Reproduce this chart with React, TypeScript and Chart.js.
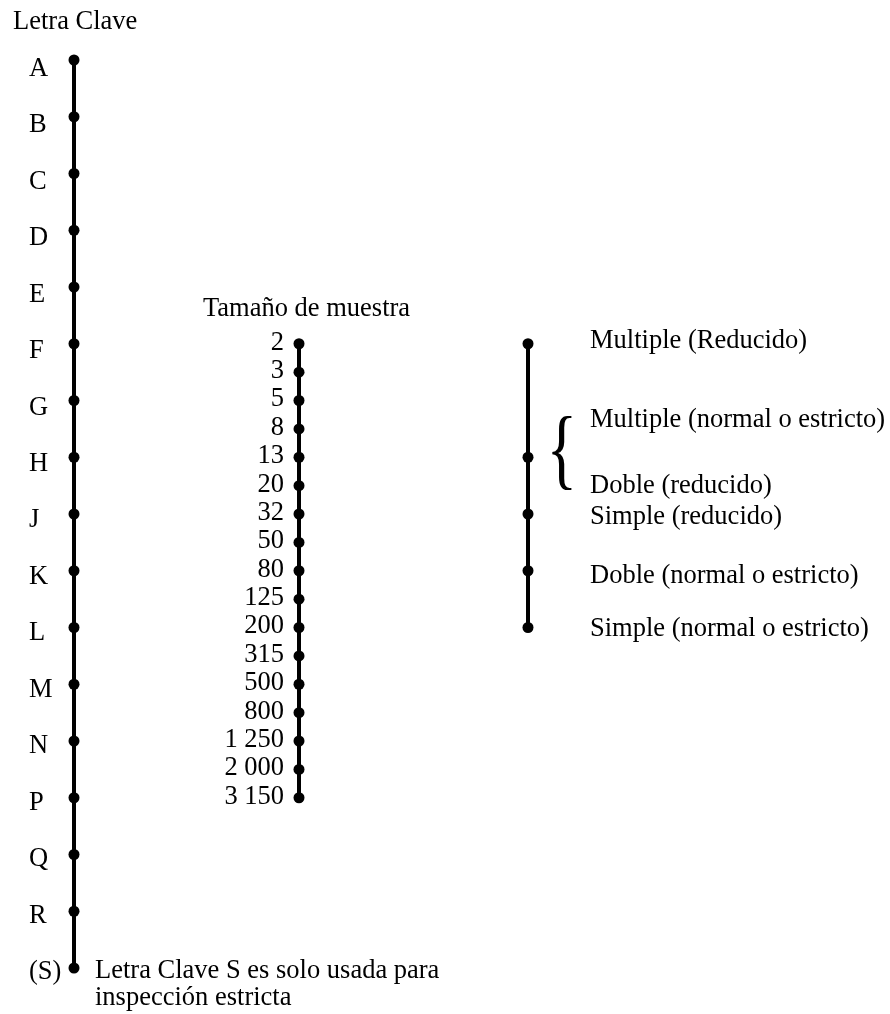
import React, { useEffect, useRef } from "react";
import { Chart, registerables } from "chart.js";

Chart.register(...registerables);

// ---- data ----
const LETTERS = ["A", "B", "C", "D", "E", "F", "G", "H", "J", "K", "L", "M", "N", "P", "Q", "R", "S"];
const LETTER_LABELS = ["A", "B", "C", "D", "E", "F", "G", "H", "J", "K", "L", "M", "N", "P", "Q", "R", "(S)"];
const SAMPLE_SIZES = ["2", "3", "5", "8", "13", "20", "32", "50", "80", "125", "200", "315", "500", "800", "1 250", "2 000", "3 150"];
const SAMPLE_START_LETTER = "F";
const SAMPLE_STEP = 0.5; // each sample size sits half a letter step below the previous
const PLAN_MARKS = ["F", "H", "J", "K", "L"];
const PLAN_LABELS = [
  ["Multiple (Reducido)"],
  ["Multiple (normal o estricto)", "Doble (reducido)"],
  ["Simple (reducido)"],
  ["Doble (normal o estricto)"],
  ["Simple (normal o estricto)"],
];
const TITLE_LETTERS = "Letra Clave";
const TITLE_SAMPLE = "Tamaño de muestra";
const NOTE_LINES = ["Letra Clave S es solo usada para", "inspección estricta"];

// ---- layout / style ----
const W = 890;
const H = 1014;
const COL_LETTER = 74;
const COL_SAMPLE = 299;
const COL_PLAN = 528;
const FONT = '26.5px "Liberation Serif", "Times New Roman", serif';
const PLAN_NUDGE = [[-3], [-37, 29], [3], [5], [2]]; // px offsets of plan texts from their marker

const letterIndex = (l: string) => LETTERS.indexOf(l);

export default function App() {
  const ref = useRef<HTMLCanvasElement | null>(null);

  useEffect(() => {
    if (!ref.current) return;
    const sampleStart = letterIndex(SAMPLE_START_LETTER);

    const labelsPlugin = {
      id: "nomoLabels",
      afterDraw(chart: any) {
        const ctx = chart.ctx as CanvasRenderingContext2D;
        const ys = chart.scales.y;
        const xs = chart.scales.x;
        ctx.save();
        ctx.fillStyle = "#000";
        ctx.font = FONT;
        ctx.textBaseline = "middle";

        // titles
        ctx.textAlign = "left";
        ctx.fillText(TITLE_LETTERS, xs.getPixelForValue(13), 22);
        ctx.fillText(TITLE_SAMPLE, xs.getPixelForValue(203), 309);

        // letter labels
        const n = LETTER_LABELS.length;
        LETTER_LABELS.forEach((lab, i) => {
          const off = 9 - 5 * (i / (n - 1));
          ctx.fillText(lab, xs.getPixelForValue(29), ys.getPixelForValue(i) + off);
        });

        // sample size labels
        ctx.textAlign = "right";
        SAMPLE_SIZES.forEach((lab, i) => {
          ctx.fillText(lab, xs.getPixelForValue(284), ys.getPixelForValue(sampleStart + i * SAMPLE_STEP) - 1);
        });

        // plan labels
        ctx.textAlign = "left";
        PLAN_MARKS.forEach((m, i) => {
          const py = ys.getPixelForValue(letterIndex(m));
          const group = PLAN_LABELS[i];
          const nudge = PLAN_NUDGE[i];
          const lx = xs.getPixelForValue(590);
          group.forEach((t, k) => ctx.fillText(t, lx, py + nudge[k]));
          if (group.length > 1) {
            // brace
            ctx.save();
            ctx.font = '80px "Liberation Serif", serif';
            ctx.textBaseline = "alphabetic";
            ctx.textAlign = "left";
            const mt = ctx.measureText("{");
            const inkW = mt.actualBoundingBoxLeft + mt.actualBoundingBoxRight;
            const inkH = mt.actualBoundingBoxAscent + mt.actualBoundingBoxDescent;
            const bw = 20;
            const bh = 74;
            const cy = py + (nudge[0] + nudge[1]) / 2;
            ctx.translate(xs.getPixelForValue(552), cy - bh / 2);
            ctx.scale(bw / inkW, bh / inkH);
            ctx.fillText("{", mt.actualBoundingBoxLeft, mt.actualBoundingBoxAscent);
            ctx.restore();
          }
        });

        // note
        ctx.textAlign = "left";
        ctx.fillText(NOTE_LINES[0], xs.getPixelForValue(95), 971);
        ctx.fillText(NOTE_LINES[1], xs.getPixelForValue(95), 998);
        ctx.restore();
      },
    };

    const common = {
      showLine: true,
      borderColor: "#000",
      backgroundColor: "#000",
      borderWidth: 4,
      pointRadius: 5.5,
      pointHoverRadius: 5.5,
      pointBackgroundColor: "#000",
      pointBorderColor: "#000",
      pointBorderWidth: 0,
      pointStyle: "circle" as const,
      clip: false as any,
      tension: 0,
    };

    const chart = new Chart(ref.current, {
      type: "scatter",
      data: {
        datasets: [
          {
            ...common,
            label: "Letra Clave",
            data: LETTERS.map((_, i) => ({ x: COL_LETTER, y: i })),
          },
          {
            ...common,
            label: "Tamaño de muestra",
            data: SAMPLE_SIZES.map((_, i) => ({ x: COL_SAMPLE, y: sampleStart + i * SAMPLE_STEP })),
          },
          {
            ...common,
            label: "Plan",
            data: PLAN_MARKS.map((m) => ({ x: COL_PLAN, y: letterIndex(m) })),
          },
        ],
      },
      options: {
        animation: false,
        responsive: false,
        devicePixelRatio: 1,
        layout: { autoPadding: false, padding: { top: 60, bottom: 46, left: 0, right: 0 } },
        plugins: { legend: { display: false }, tooltip: { enabled: false } },
        events: [],
        scales: {
          x: { type: "linear", min: 0, max: W, display: false },
          y: { type: "linear", min: 0, max: LETTERS.length - 1, reverse: true, display: false },
        },
      },
      plugins: [labelsPlugin],
    });
    return () => chart.destroy();
  }, []);

  return (
    <div style={{ position: "absolute", left: 0, top: 0, width: W, height: H, background: "#fff" }}>
      <canvas ref={ref} width={W} height={H} style={{ display: "block" }} />
    </div>
  );
}
